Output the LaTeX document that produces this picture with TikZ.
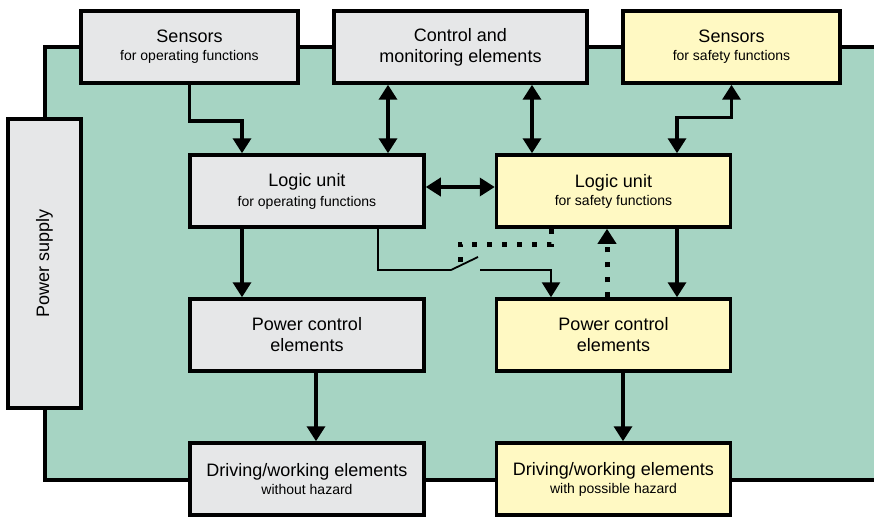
\documentclass[tikz,border=0pt]{standalone}
\usepackage{fontspec}
\setmainfont{Liberation Sans}
\usetikzlibrary{arrows.meta}
\definecolor{plantgreen}{HTML}{A6D4C3}
\definecolor{opgray}{HTML}{E6E7E8}
\definecolor{safeyellow}{HTML}{FFF9C3}
\newcommand{\boxnote}[1]{{\fontsize{14}{16}\selectfont #1}}
\begin{document}
\begin{tikzpicture}[x=1pt, y=-1pt, node distance=144pt,
  unit/.style={draw, line width=3.5pt, minimum width=234pt, minimum height=72pt, inner sep=0pt, align=center, font=\fontsize{18}{21}\selectfont},
  opunit/.style={unit, fill=opgray},
  safeunit/.style={unit, fill=safeyellow},
  flow/.style={line width=3.5pt, -{Triangle[width=18pt,length=15pt]}},
  both/.style={line width=3.5pt, {Triangle[width=18pt,length=15pt]}-{Triangle[width=18pt,length=15pt]}},
  wire/.style={line width=2.5pt},
  linkage/.style={line width=5pt, dash pattern=on 5pt off 10pt}]
\useasboundingbox (0,0) rectangle (874,516);
\fill[plantgreen] (45,47) rectangle (874,480);
\draw[line width=3.5pt] (874,47) -- (45,47) -- (45,480) -- (874,480);
\node[opunit, minimum width=217pt] (opsens) at (189.5,47) {Sensors\\[-3pt]\boxnote{for operating functions}};
\node[opunit, minimum width=253pt] (monitor) at (460.5,47) {Control and\\monitoring elements};
\node[safeunit, minimum width=217pt] (safesens) at (731.5,47) {Sensors\\[-3pt]\boxnote{for safety functions}};
\node[opunit, minimum width=73pt, minimum height=289pt] (supply) at (44.5,263.5) {\rotatebox{90}{Power supply}};
\node[opunit] (oplogic) at (307,191) {Logic unit\\[-1pt]\boxnote{for operating functions}};
\node[safeunit] (safelogic) at (613.5,191) {Logic unit\\[-3pt]\boxnote{for safety functions}};
\node[opunit, below of=oplogic] (opdrive) {Power control\\elements};
\node[safeunit, below of=safelogic] (safedrive) {Power control\\elements};
\node[opunit, below of=opdrive] (opwork) {Driving/working elements\\[-3pt]\boxnote{without hazard}};
\node[safeunit, below of=safedrive] (safework) {Driving/working elements\\[-3pt]\boxnote{with possible hazard}};
\draw[flow] (opsens.south) -- ++(0,36) -| ([xshift=-65pt]oplogic.north);
\draw[both] ([xshift=-72.5pt]monitor.south) -- ([xshift=81pt]oplogic.north);
\draw[both] ([xshift=71.5pt]monitor.south) -- ([xshift=-81.5pt]safelogic.north);
\draw[both] ([xshift=63.5pt]safelogic.north) -- ++(0,-36) -| (safesens.south);
\draw[both] ([yshift=4pt]oplogic.east) -- ([yshift=4pt]safelogic.west);
\draw[flow] ([xshift=-65pt]oplogic.south) -- ([xshift=-65pt]opdrive.north);
\draw[flow] ([xshift=63.5pt]safelogic.south) -- ([xshift=63.5pt]safedrive.north);
\draw[flow] ([xshift=9pt]opdrive.south) -- ([xshift=9pt]opwork.north);
\draw[flow] ([xshift=9.5pt]safedrive.south) -- ([xshift=9.5pt]safework.north);
\coordinate (swin) at (451,270);
\coordinate (swout) at (480,270);
\coordinate (link) at (460,262);
\draw[wire] ([xshift=71pt]oplogic.south) |- (swin);
\draw[line width=1.8pt] (swin) -- ++(27,-13);
\draw[wire, -{Triangle[width=18pt,length=15pt]}] (swout) -| ([xshift=-62.5pt]safedrive.north);
\draw[linkage] (link) -- (460,244) -| ([xshift=-62pt]safelogic.south);
\draw[linkage, -{Triangle[width=18pt,length=15pt]}] ([xshift=-6.5pt]safedrive.north) -- ([xshift=-6.5pt]safelogic.south);
\end{tikzpicture}
\end{document}
